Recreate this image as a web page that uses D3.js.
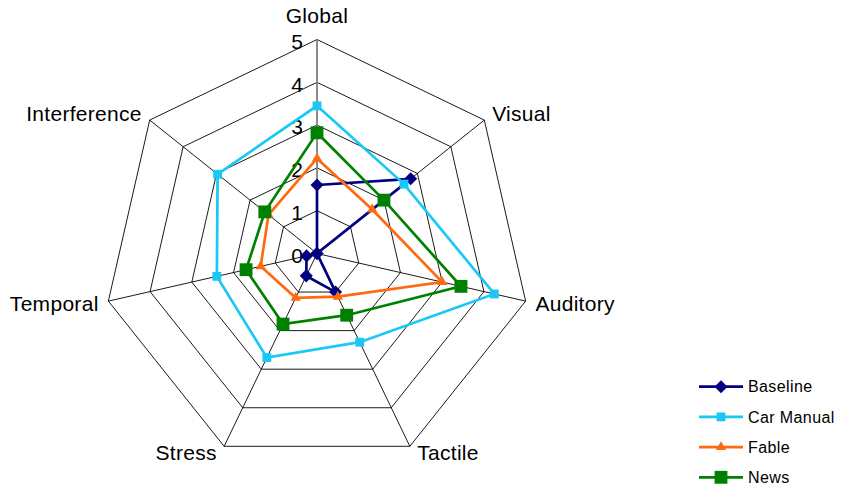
<!DOCTYPE html>
<html>
<head>
<meta charset="utf-8">
<script src="https://cdn.jsdelivr.net/npm/d3@7"></script>
<style>
  html, body { margin: 0; padding: 0; background: #fff; }
  svg { display: block; font-family: "Liberation Sans", Arial, Helvetica, sans-serif; }
</style>
</head>
<body>
<svg id="chart" width="845" height="489"></svg>
<script>
// Workload dimensions around the radar
const axes = ["Global", "Visual", "Auditory", "Tactile", "Stress", "Temporal", "Interference"];

// Rating per dimension for each condition
const baseline   = [1.6, 2.8, 0.0, 1.0, 0.58, 0.25, 0.0];
const carManual  = [3.45, 2.6, 4.25, 2.3, 2.7, 2.4, 2.97];
const fable      = [2.22, 1.65, 3.0, 1.12, 1.15, 1.35, 1.45];
const news       = [2.82, 2.0, 3.45, 1.6, 1.83, 1.7, 1.56];

const seriesNames = ["Baseline", "Car Manual", "Fable", "News"];
const tickValues = [0, 1, 2, 3, 4, 5];

const series = [
  { name: seriesNames[0], values: baseline,  color: "#000080", symbol: "diamond",  size: 85 },
  { name: seriesNames[1], values: carManual, color: "#1AC8F5", symbol: "square",   size: 78 },
  { name: seriesNames[2], values: fable,     color: "#FF6A10", symbol: "triangle", size: 46 },
  { name: seriesNames[3], values: news,      color: "#008000", symbol: "square",   size: 165 }
];

const svg = d3.select("#chart");
const cx = 317, cy = 253.5, R = 214;

const r = d3.scaleLinear().domain([0, 5]).range([0, R]);
const angle = d3.scaleLinear().domain([0, axes.length]).range([0, 2 * Math.PI]);

const px = (i, v) => cx + r(v) * Math.sin(angle(i));
const py = (i, v) => cy - r(v) * Math.cos(angle(i));

const g = svg.append("g");

// web gridlines
const web = d3.lineRadial()
  .angle((d, i) => angle(i))
  .radius(d => r(d))
  .curve(d3.curveLinearClosed);

g.append("g").attr("transform", `translate(${cx},${cy})`)
  .selectAll("path")
  .data(tickValues.filter(t => t > 0))
  .join("path")
  .attr("d", t => web(axes.map(() => t)))
  .attr("fill", "none")
  .attr("stroke", "#000")
  .attr("stroke-width", 0.9);

// spokes
g.append("g").selectAll("line")
  .data(axes)
  .join("line")
  .attr("x1", cx).attr("y1", cy)
  .attr("x2", (d, i) => px(i, 5))
  .attr("y2", (d, i) => py(i, 5))
  .attr("stroke", (d, i) => i === 0 ? "#808080" : "#000")
  .attr("stroke-width", (d, i) => i === 0 ? 1.8 : 0.9);

// tick labels along the Global axis
g.append("g").selectAll("text")
  .data(tickValues)
  .join("text")
  .attr("x", cx - 14)
  .attr("y", d => cy - r(d) + 2)
  .attr("dy", "0.35em")
  .attr("text-anchor", "end")
  .attr("font-size", 21)
  .attr("fill", "#000")
  .text(d => d);

// axis labels, pushed outward from each outer vertex
function labelX(i) {
  const s = Math.sin(angle(i)), c = Math.cos(angle(i));
  if (i === 0) return cx;
  return px(i, 5) + 10 * s + (c < -0.5 ? 3 * Math.sign(s) : 0);
}
function labelY(i) {
  const c = Math.cos(angle(i));
  if (i === 0) return py(0, 5) - 17;
  return py(i, 5) + (c < -0.5 ? 6.5 : -10 * c);
}

g.append("g").selectAll("text")
  .data(axes)
  .join("text")
  .attr("x", (d, i) => labelX(i))
  .attr("y", (d, i) => labelY(i))
  .attr("dy", (d, i) => i === 0 ? 0 : "0.35em")
  .attr("text-anchor", (d, i) => {
    const s = Math.sin(angle(i));
    return Math.abs(s) < 1e-6 ? "middle" : (s > 0 ? "start" : "end");
  })
  .attr("font-size", 21)
  .attr("letter-spacing", 0.3)
  .attr("fill", "#000")
  .text(d => d);

// marker shape generator
function symbolPath(kind, size) {
  const type = kind === "triangle" ? d3.symbolTriangle : d3.symbolSquare;
  return d3.symbol().type(type).size(size)();
}
function symbolTransform(kind, x, y) {
  return `translate(${x},${y})` + (kind === "diamond" ? " rotate(45)" : "");
}

// series polygons and markers
const seriesLine = d3.lineRadial()
  .angle((d, i) => angle(i))
  .radius(d => r(d))
  .curve(d3.curveLinearClosed);

series.forEach(s => {
  const sg = g.append("g");
  sg.append("path")
    .attr("transform", `translate(${cx},${cy})`)
    .attr("d", seriesLine(s.values))
    .attr("fill", "none")
    .attr("stroke", s.color)
    .attr("stroke-width", 2.7)
    .attr("stroke-linejoin", "miter");
  sg.selectAll("path.marker")
    .data(s.values)
    .join("path")
    .attr("class", "marker")
    .attr("d", symbolPath(s.symbol, s.size))
    .attr("transform", (v, i) => symbolTransform(s.symbol, px(i, v), py(i, v)))
    .attr("fill", s.color);
});

// legend
const legendY = d3.scalePoint().domain(seriesNames).range([386.7, 477.3]);
const legend = svg.append("g").selectAll("g")
  .data(series)
  .join("g")
  .attr("transform", d => `translate(0,${legendY(d.name)})`);

legend.append("line")
  .attr("x1", 699).attr("x2", 743)
  .attr("y1", 0).attr("y2", 0)
  .attr("stroke", d => d.color)
  .attr("stroke-width", 2.7);
legend.append("path")
  .attr("d", d => symbolPath(d.symbol, d.size))
  .attr("transform", d => symbolTransform(d.symbol, 721, 0))
  .attr("fill", d => d.color);
legend.append("text")
  .attr("x", 748)
  .attr("y", 0)
  .attr("dy", "0.35em")
  .attr("font-size", 16)
  .attr("letter-spacing", 0.4)
  .attr("fill", "#000")
  .text(d => d.name);
</script>
</body>
</html>
